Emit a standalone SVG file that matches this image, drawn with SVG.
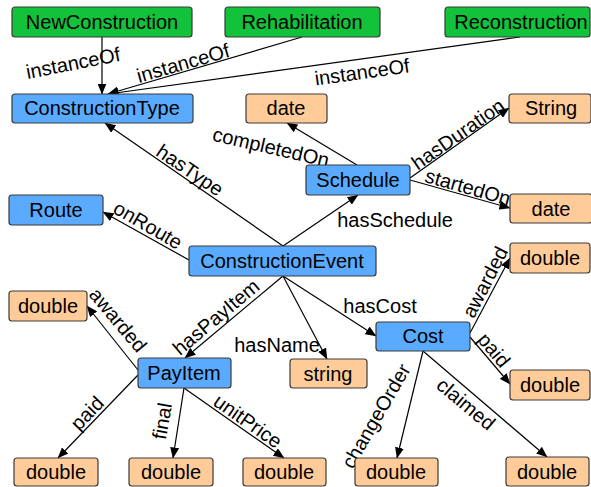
<svg xmlns="http://www.w3.org/2000/svg" width="591" height="487" viewBox="0 0 591 487">
<style>
.n rect{stroke:#3a3a3a;stroke-width:1.2}
.g rect{fill:#12c23a}
.b rect{fill:#5aabff}
.o rect{fill:#ffcc99}
.n text{font-family:"Liberation Sans",Arial,sans-serif;font-size:20px;fill:#000;text-anchor:middle}
#edges line{stroke:#000;stroke-width:1.2;marker-end:url(#ah)}
#edges text{font-family:"Liberation Sans",Arial,sans-serif;font-size:20px;fill:#000;text-anchor:middle}
</style>
<defs>
<marker id="ah" markerUnits="userSpaceOnUse" markerWidth="11" markerHeight="9" refX="10.5" refY="4.5" orient="auto" viewBox="0 0 11 9">
<path d="M0,0 L11,4.5 L0,9 z" fill="#000"/>
</marker>
</defs>
<rect width="591" height="487" fill="#fff"/>
<g id="edges">
<line x1="102" y1="37" x2="102" y2="94"/>
<line x1="302" y1="37" x2="108" y2="94"/>
<line x1="520" y1="37" x2="108" y2="94"/>
<line x1="283" y1="246" x2="105" y2="123"/>
<line x1="189" y1="260" x2="103" y2="212"/>
<line x1="283" y1="246" x2="358" y2="195"/>
<line x1="357" y1="165" x2="287" y2="123"/>
<line x1="410" y1="178" x2="509" y2="108"/>
<line x1="410" y1="180" x2="510" y2="208"/>
<line x1="283" y1="276" x2="185" y2="358"/>
<line x1="283" y1="276" x2="327" y2="359"/>
<line x1="283" y1="276" x2="376" y2="336"/>
<line x1="470" y1="333" x2="510" y2="258"/>
<line x1="470" y1="337" x2="510" y2="384"/>
<line x1="423" y1="351" x2="397" y2="458"/>
<line x1="423" y1="351" x2="547" y2="457"/>
<line x1="138" y1="370" x2="87" y2="306"/>
<line x1="138" y1="375" x2="58" y2="458"/>
<line x1="184" y1="388" x2="173" y2="458"/>
<line x1="184" y1="388" x2="284" y2="458"/>
<text transform="translate(73,63) rotate(-11)" y="7">instanceOf</text>
<text transform="translate(183,63) rotate(-16)" y="7">instanceOf</text>
<text transform="translate(362,72) rotate(-8)" y="7">instanceOf</text>
<text transform="translate(190,170) rotate(34)" y="7">hasType</text>
<text transform="translate(148,225) rotate(30)" y="7">onRoute</text>
<text x="395" y="227">hasSchedule</text>
<text transform="translate(271,147) rotate(13)" y="7">completedOn</text>
<text transform="translate(458,134) rotate(-35)" y="7">hasDuration</text>
<text transform="translate(468,187) rotate(16)" y="7">startedOn</text>
<text transform="translate(216,317) rotate(-40)" y="7">hasPayItem</text>
<text x="277" y="352">hasName</text>
<text x="380" y="313">hasCost</text>
<text transform="translate(485,282) rotate(-63)" y="7">awarded</text>
<text transform="translate(494,350) rotate(50)" y="7">paid</text>
<text transform="translate(376,416) rotate(-60)" y="7">changeOrder</text>
<text transform="translate(466,404) rotate(40)" y="7">claimed</text>
<text transform="translate(118,320) rotate(50)" y="7">awarded</text>
<text transform="translate(87,413) rotate(-46)" y="7">paid</text>
<text transform="translate(162,421) rotate(-80)" y="7">final</text>
<text transform="translate(248,421) rotate(35)" y="7">unitPrice</text>
</g>
<g id="NewConstruction" class="n g"><rect x="12" y="7" width="180" height="30" rx="3"/><text x="102" y="29">NewConstruction</text></g>
<g id="Rehabilitation" class="n g"><rect x="225" y="7" width="155" height="30" rx="3"/><text x="302" y="29">Rehabilitation</text></g>
<g id="Reconstruction" class="n g"><rect x="445" y="7" width="145" height="30" rx="3"/><text x="521" y="29">Reconstruction</text></g>
<g id="ConstructionType" class="n b"><rect x="12" y="94" width="181" height="29" rx="3"/><text x="102" y="115">ConstructionType</text></g>
<g id="dateCompleted" class="n o"><rect x="246" y="94" width="81" height="29" rx="3"/><text x="286" y="115">date</text></g>
<g id="String" class="n o"><rect x="509" y="94" width="82" height="29" rx="3"/><text x="551" y="115">String</text></g>
<g id="Schedule" class="n b"><rect x="306" y="165" width="104" height="30" rx="3"/><text x="358" y="187">Schedule</text></g>
<g id="Route" class="n b"><rect x="9" y="195" width="94" height="30" rx="3"/><text x="56" y="217">Route</text></g>
<g id="dateStarted" class="n o"><rect x="510" y="194" width="82" height="29" rx="3"/><text x="551" y="216">date</text></g>
<g id="ConstructionEvent" class="n b"><rect x="189" y="246" width="187" height="30" rx="3"/><text x="282" y="268">ConstructionEvent</text></g>
<g id="costAwarded" class="n o"><rect x="510" y="243" width="80" height="30" rx="3"/><text x="550" y="265">double</text></g>
<g id="payAwarded" class="n o"><rect x="9" y="291" width="78" height="30" rx="3"/><text x="48" y="313">double</text></g>
<g id="Cost" class="n b"><rect x="376" y="322" width="94" height="29" rx="3"/><text x="423" y="343">Cost</text></g>
<g id="PayItem" class="n b"><rect x="138" y="358" width="93" height="30" rx="3"/><text x="184" y="380">PayItem</text></g>
<g id="stringName" class="n o"><rect x="290" y="359" width="77" height="29" rx="3"/><text x="328" y="381">string</text></g>
<g id="costPaid" class="n o"><rect x="510" y="370" width="80" height="30" rx="3"/><text x="550" y="392">double</text></g>
<g id="payPaid" class="n o"><rect x="14" y="458" width="84" height="28" rx="3"/><text x="56" y="479">double</text></g>
<g id="payFinal" class="n o"><rect x="129" y="458" width="84" height="28" rx="3"/><text x="171" y="479">double</text></g>
<g id="payUnitPrice" class="n o"><rect x="243" y="458" width="83" height="28" rx="3"/><text x="284" y="479">double</text></g>
<g id="costChangeOrder" class="n o"><rect x="355" y="458" width="83" height="28" rx="3"/><text x="396" y="479">double</text></g>
<g id="costClaimed" class="n o"><rect x="506" y="457" width="83" height="29" rx="3"/><text x="547" y="479">double</text></g>
</svg>
